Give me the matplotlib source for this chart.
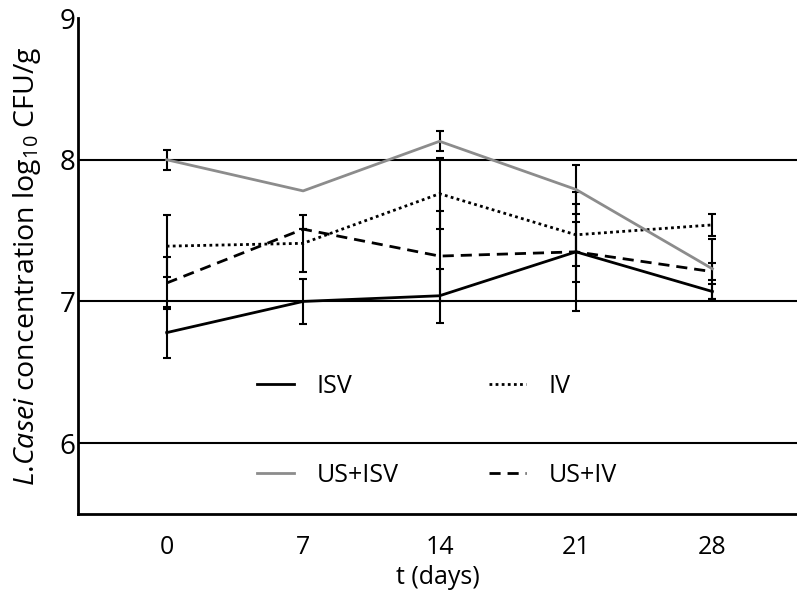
import numpy as np
import matplotlib
matplotlib.use("Agg")
import matplotlib.pyplot as plt

# data
days = ['0', '7', '14', '21', '28']
isv = [6.78, 7.00, 7.04, 7.35, 7.07]
isv_err = [0.18, 0.16, 0.19, 0.42, 0.05]
iv = [7.39, 7.41, 7.76, 7.47, 7.54]
iv_err = [0.22, 0.20, 0.25, 0.22, 0.08]
us_isv = [8.00, 7.78, 8.13, 7.79, 7.23]
us_isv_err = [0.07, np.nan, 0.07, 0.17, 0.21]
us_iv = [7.13, 7.51, 7.32, 7.35, 7.21]
us_iv_err = [0.18, 0.0, 0.32, 0.21, 0.06]

plt.rcParams['font.family'] = ['Open Sans', 'DejaVu Sans']
plt.rcParams['mathtext.fontset'] = 'custom'
plt.rcParams['mathtext.rm'] = 'Open Sans'
plt.rcParams['mathtext.it'] = 'Open Sans:italic'

fig = plt.figure(figsize=(7.97, 5.97), dpi=100)
ax = fig.add_axes([78 / 797, 1 - 514 / 597, 719 / 797, 496 / 597])

x = np.arange(len(days))
ebkw = dict(ecolor='black', elinewidth=1.5, capsize=3, capthick=1.5)

ax.errorbar(x, isv, yerr=isv_err, color='black', lw=2, ls='-', label='ISV', **ebkw)
ax.errorbar(x, iv, yerr=iv_err, color='black', lw=2, ls=(0, (1, 1.2)), label='IV', **ebkw)
ax.errorbar(x, us_isv, yerr=us_isv_err, color='#8c8c8c', lw=2, ls='-', label='US+ISV', **ebkw)
ax.errorbar(x, us_iv, yerr=us_iv_err, color='black', lw=2, ls=(0, (4, 2.5)), label='US+IV', **ebkw)

for v in [6, 7, 8]:
    ax.axhline(v, color='black', lw=1.5, zorder=0)

ax.set_xlim(-0.65, 4.62)
ax.set_ylim(5.5, 9)
ax.set_yticks([6, 7, 8, 9])
ax.set_xticks(x)
ax.set_xticklabels(days)
ax.tick_params(axis='x', length=0, labelsize=18, pad=15)
ax.tick_params(axis='y', length=0, labelsize=20, pad=2)
for s in ['top', 'right']:
    ax.spines[s].set_visible(False)
for s in ['left', 'bottom']:
    ax.spines[s].set_linewidth(2)

ax.set_xlabel('t (days)', fontsize=18, labelpad=4)
ax.set_ylabel(r'$\it{L}$.$\it{Casei}$ concentration log$_{10}$ CFU/g', fontsize=20.5, labelpad=12)

# legend rows: ISV / IV on top, US+ISV / US+IV below
handles, labels = ax.get_legend_handles_labels()
handles = [h[0] for h in handles]
order = [0, 2, 1, 3]
ax.legend([handles[i] for i in order], [labels[i] for i in order], ncol=2,
          frameon=False, loc='center', bbox_to_anchor=(0.499, 0.168), fontsize=18,
          labelspacing=2.55, columnspacing=3.6, handlelength=1.5, handletextpad=0.9)

fig.savefig('out.png', dpi=100)
